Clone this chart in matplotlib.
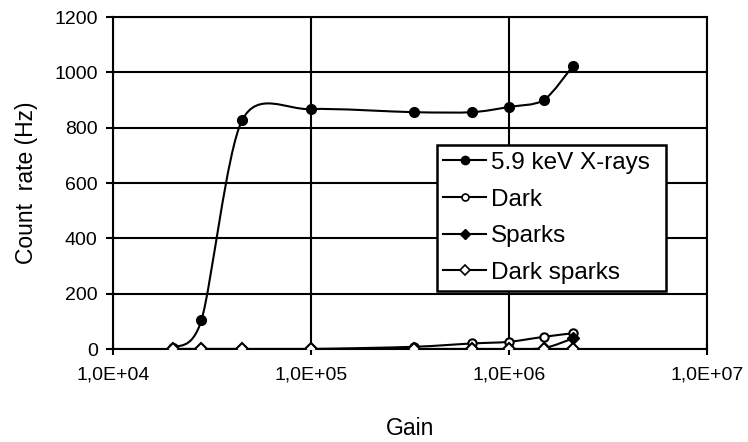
import numpy as np
import matplotlib
matplotlib.use("Agg")
import matplotlib.pyplot as plt
from matplotlib.path import Path
from matplotlib.patches import PathPatch
from matplotlib.lines import Line2D
from matplotlib.ticker import FixedLocator, FuncFormatter, NullLocator

plt.rcParams['font.family'] = ['Liberation Sans', 'DejaVu Sans']

# Gain values at which the count rates were measured
gain = [2.0e4, 2.8e4, 4.5e4, 1.0e5, 3.3e5, 6.5e5, 1.0e6, 1.5e6, 2.1e6]

# Count rates (Hz)
xrays = [5, 105, 828, 867, 856, 856, 875, 900, 1022]
dark = [0, 0, 0, 0, 8, 20, 26, 44, 57]
sparks = [0, 0, 0, 0, 0, 0, 0, 3, 38]
dark_sparks = [0, 0, 0, 0, 0, 0, 0, 0, 0]

series_names = ["5.9 keV X-rays", "Dark", "Sparks", "Dark sparks"]
x_ticks = [1e4, 1e5, 1e6, 1e7]
y_ticks = [0, 200, 400, 600, 800, 1000, 1200]


def smooth_path(xs, ys, k=7.0):
    """Smoothed Bezier path through the points, in log-x / linear-y space."""
    pts = np.column_stack([np.log10(xs), np.asarray(ys, float)])
    n = len(pts)
    verts = [pts[0]]
    codes = [Path.MOVETO]
    for i in range(n - 1):
        p0 = pts[i - 1] if i > 0 else pts[i]
        p1 = pts[i]
        p2 = pts[i + 1]
        p3 = pts[i + 2] if i + 2 < n else pts[i + 1]
        c1 = p1 + (p2 - p0) / k
        c2 = p2 - (p3 - p1) / k
        verts += [c1, c2, p2]
        codes += [Path.CURVE4] * 3
    verts = np.array(verts)
    verts[:, 0] = 10 ** verts[:, 0]
    return Path(verts, codes)


fig = plt.figure(figsize=(7.48, 4.42), dpi=100)
ax = fig.add_axes([0.151, 0.2104, 0.794, 0.7511])

ax.set_xscale('log')
ax.set_xlim(1e4, 1e7)
ax.set_ylim(0, 1200)

lw = 1.5
for vals in (xrays, dark, sparks, dark_sparks):
    ax.add_patch(PathPatch(smooth_path(gain, vals), fill=False,
                           edgecolor='black', lw=lw, zorder=3))

ax.plot(gain, xrays, ls='none', marker='o', ms=7, mfc='black', mec='black', zorder=4)
ax.plot(gain, dark, ls='none', marker='o', ms=6, mfc='white', mec='black', mew=1.5, zorder=4)
ax.plot(gain, sparks, ls='none', marker='D', ms=6, mfc='black', mec='black', zorder=4)
ax.plot(gain, dark_sparks, ls='none', marker='D', ms=6, mfc='white', mec='black', mew=1.5, zorder=5)

# Grid and frame
ax.xaxis.set_major_locator(FixedLocator(x_ticks))
ax.xaxis.set_minor_locator(NullLocator())
ax.yaxis.set_major_locator(FixedLocator(y_ticks))
ax.grid(True, color='black', lw=1.5)
ax.set_axisbelow(True)
for s in ax.spines.values():
    s.set_linewidth(1.5)
    s.set_color('black')

ax.xaxis.set_major_formatter(FuncFormatter(lambda v, p: "1,0E+%02d" % round(np.log10(v))))
ax.tick_params(axis='x', direction='inout', length=9, width=1.5, labelsize=14, pad=8)
ax.tick_params(axis='y', direction='out', length=5, width=1.5, labelsize=14, pad=6)

ax.set_xlabel("Gain", fontsize=16.5, labelpad=24)
ax.set_ylabel("Count  rate (Hz)", fontsize=16.5, labelpad=12)

handles = [
    Line2D([], [], color='black', lw=lw, marker='o', ms=6, mfc='black', mec='black'),
    Line2D([], [], color='black', lw=lw, marker='o', ms=5, mfc='white', mec='black', mew=1.2),
    Line2D([], [], color='black', lw=lw, marker='D', ms=5, mfc='black', mec='black'),
    Line2D([], [], color='black', lw=lw, marker='D', ms=5, mfc='white', mec='black', mew=1.2),
]
leg = ax.legend(handles, series_names, loc='upper left',
                bbox_to_anchor=(0.545, 0.175, 0.386, 0.439), mode='expand',
                fontsize=17.5, frameon=True, fancybox=False, framealpha=1,
                edgecolor='black', handlelength=1.75, handletextpad=0.2,
                borderpad=0.28, labelspacing=0.6, borderaxespad=0)
leg.get_frame().set_linewidth(1.8)
leg.set_zorder(10)

fig.savefig("out.png", dpi=100)
